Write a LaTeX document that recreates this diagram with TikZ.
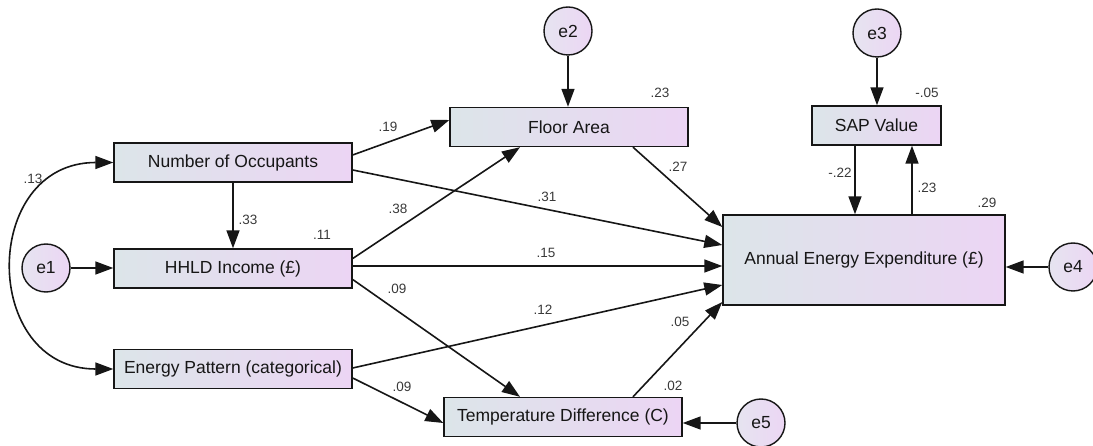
\documentclass[tikz,border=0pt]{standalone}
\usepackage{fontspec}
\setmainfont{Liberation Sans}
\usetikzlibrary{arrows.meta,positioning,calc}
\definecolor{boxleft}{RGB}{220,229,233}
\definecolor{boxright}{RGB}{236,213,244}
\definecolor{errleft}{RGB}{230,228,240}
\definecolor{errright}{RGB}{236,214,244}
\definecolor{ink}{RGB}{22,22,22}
\tikzset{
  var/.style={draw=ink,line width=1.4pt,left color=boxleft,right color=boxright,
    minimum width=238pt,minimum height=39pt,inner sep=0pt,text=ink,
    font=\fontsize{17.5}{20}\selectfont},
  err/.style={circle,draw=ink,line width=1.4pt,left color=errleft,right color=errright,
    minimum size=48pt,inner sep=0pt,text=ink,font=\fontsize{17.5}{20}\selectfont},
  reg/.style={draw=ink,line width=1.6pt,-{Triangle[length=18pt,width=13pt]}},
  cov/.style={draw=ink,line width=1.6pt,{Triangle[length=18pt,width=13pt]}-{Triangle[length=18pt,width=13pt]}},
  coef/.style={inner sep=0pt,text=ink!85,font=\fontsize{13.5}{15}\selectfont},
}
\begin{document}
\begin{tikzpicture}[x=1pt,y=-1pt]
      \useasboundingbox (0,0) rectangle (1093,446);
      % observed variables
      \node[var](occ) at (233,162.5){Number of Occupants};
      \node[var](inc) at (233,268.5){HHLD Income (£)};
      \node[var](pat) at (233,369){Energy Pattern (categorical)};
      \node[var](area) at (569,127){Floor Area};
      \node[var,minimum width=129pt](sap) at (876.5,125.5){SAP Value};
      \node[var,minimum width=282pt,minimum height=90pt](exp) at (864,260){Annual Energy Expenditure (£)};
      \node[var](temp) at (563,417){Temperature Difference (C)};

      % error terms
      \node[err](e1) at (46,268){e1};
      \node[err](e2) at (568,31){e2};
      \node[err](e3) at (877,33){e3};
      \node[err](e4) at (1073,267){e4};
      \node[err](e5) at (761,423){e5};

      \coordinate (sapl) at ($(sap.south)+(-21.5,0)$);
      \coordinate (sapr) at ($(sap.south)+(35.5,0)$);

      \draw[reg] ($(occ.east)+(0,-7.5)$) -- ($(area.west)+(0,-7)$);
      \draw[reg] ($(occ.east)+(0,7.5)$) -- ($(exp.west)+(0,-15)$);
      \draw[reg] (occ) -- (inc);
      \draw[reg] ($(inc.east)+(0,-10)$) -- ($(area.south)+(-49,0)$);
      \draw[reg] ($(inc.east)+(0,-2.5)$) -- ($(exp.west)+(0,6)$);
      \draw[reg] ($(inc.east)+(0,11)$) -- ($(temp.north)+(-43,0)$);
      \draw[reg] ($(pat.east)+(0,-1)$) -- ($(exp.west)+(0,25)$);
      \draw[reg] ($(pat.east)+(0,9)$) -- ($(temp.west)+(0,6)$);
      \draw[reg] ($(temp.north)+(70,0)$) -- ($(exp.west)+(0,42)$);
      \draw[reg] ($(area.south)+(64,0)$) -- ($(exp.west)+(0,-33)$);
      \draw[reg] (sapl) -- (sapl |- exp.north);  % SAP -> expenditure
      \draw[reg] (sapr |- exp.north) -- (sapr);  % expenditure -> SAP
      \draw[cov] (occ.west) to[out=180,in=180,looseness=1.65] (pat.west);

      \draw[reg] (e1) -- (e1 -| inc.west);
      \draw[reg] (e2) -- (e2 |- area.north);
      \draw[reg] (e3) -- (e3 |- sap.north);
      \draw[reg] (e4) -- (e4 -| exp.east);
      \draw[reg] (e5) -- (e5 -| temp.east);

      % estimates
      \node[coef](c1) at (33,179){.13};
      \node[coef](c2) at (248,220){.33};
      \node[coef](c3) at (322,235){.11};
      \node[coef](c4) at (388,127){.19};
      \node[coef](c5) at (660,93){.23};
      \node[coef](c6) at (398,209){.38};
      \node[coef](c7) at (547,197){.31};
      \node[coef](c8) at (678,167){.27};
      \node[coef](c9) at (546,253){.15};
      \node[coef](c10) at (927,93){-.05};
      \node[coef](c11) at (840,173){-.22};
      \node[coef](c12) at (927,188){.23};
      \node[coef](c13) at (987,203){.29};
      \node[coef](c14) at (397,289){.09};
      \node[coef](c15) at (543,310){.12};
      \node[coef](c16) at (680,322){.05};
      \node[coef](c17) at (402,387){.09};
      \node[coef](c18) at (673,386){.02};
\end{tikzpicture}
\end{document}
